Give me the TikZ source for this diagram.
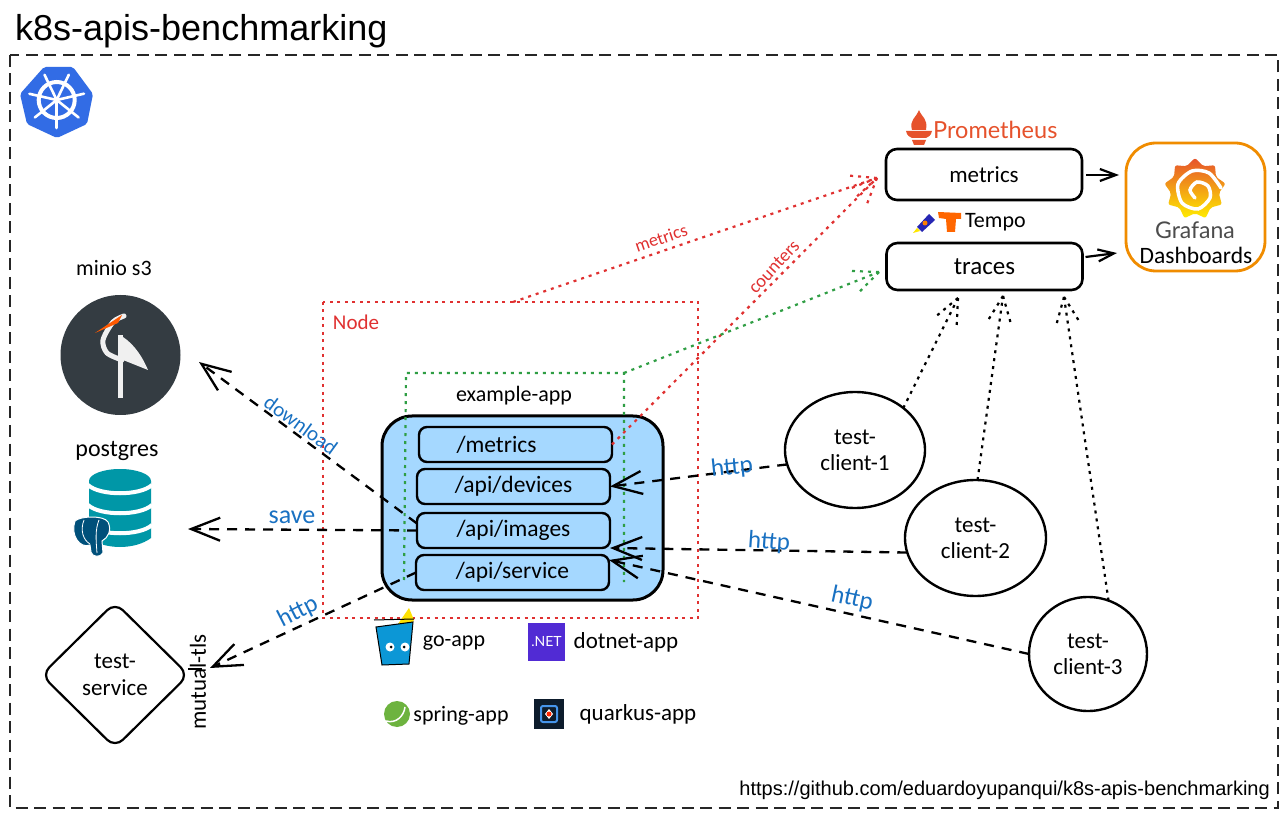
\documentclass[tikz,border=0pt]{standalone}
\usepackage{fontspec}
\setmainfont{Carlito}
\newfontfamily\titlefont{Liberation Sans}
\newfontfamily\logofont{Lato}
\usetikzlibrary{arrows.meta,shapes.geometric,decorations.markings}
\definecolor{boxblue}{HTML}{A5D8FF}
\definecolor{textblue}{HTML}{1971C2}
\definecolor{nodered}{HTML}{E03131}
\definecolor{appgreen}{HTML}{2F9E44}
\definecolor{grafanaorange}{HTML}{F08C00}
\definecolor{promred}{HTML}{E6522C}
\definecolor{kubeblue}{HTML}{326CE5}
\definecolor{miniodark}{HTML}{343C42}
\definecolor{pgteal}{HTML}{0097A7}
\definecolor{pgblue}{HTML}{00507A}
\definecolor{gocup}{HTML}{0C97D6}
\definecolor{dotnetviolet}{HTML}{512BD4}
\definecolor{springgreen}{HTML}{6DB33F}
\definecolor{quarkusdark}{HTML}{0D1C2C}
\definecolor{quarkusblue}{HTML}{4695EB}
\tikzset{
    barb/.style={-{Straight Barb[length=29pt,width=23pt,line width=2.3pt]}},
    small barb/.style={-{Straight Barb[length=16pt,width=12pt,line width=2.2pt]}},
    small text/.style={font=\fontsize{22}{26}\selectfont},
    edge text/.style={font=\fontsize{#1}{26}\selectfont,text=textblue},
    edge text/.default=25,
    endpoint/.style={draw=black,line width=2.4pt,rounded corners=8pt,fill=boxblue,
        minimum width=193pt,minimum height=35pt,inner sep=0pt,outer sep=0pt,
        font=\fontsize{23.5}{26}\selectfont},
    collector/.style={draw=black,line width=2.6pt,rounded corners=11pt,
        minimum width=196pt,inner sep=0pt,outer sep=0pt,font=\fontsize{23}{26}\selectfont},
    client/.style={draw=black,ellipse,line width=2.4pt,inner sep=0pt,outer sep=0pt,
        align=center,font=\fontsize{23}{26}\selectfont},
    dot barbs/.style={postaction={decorate,decoration={markings,mark=at position 1 with {
        \draw [#1,line width=2.2pt,dash pattern=on 3pt off 5pt] (0pt,0pt) -- (-25pt,11pt);
        \draw [#1,line width=2.2pt,dash pattern=on 3pt off 5pt] (0pt,0pt) -- (-25pt,-11pt);
    }}}},
    telemetry/.style={draw=#1,line width=2.2pt,dash pattern=on 3pt off 5pt,dot barbs=#1},
}
\begin{document}
\begin{tikzpicture}[x=1pt,y=-1pt]
    \useasboundingbox (0,0) rectangle (1286,818);
    \fill [white] (0,0) rectangle (1286,818);

    \node (title) [anchor=west,inner sep=0pt,font=\titlefont\fontsize{36}{40}\selectfont] at (15,31) {k8s-apis-benchmarking};
    \draw [black!85,line width=2.8pt,dash pattern=on 12pt off 6.5pt] (10,55) rectangle (1278,808);
    \node (url) [anchor=east,inner sep=0pt,font=\titlefont\fontsize{20}{22}\selectfont] at (1270,790) {https://github.com/eduardoyupanqui/k8s-apis-benchmarking};

    % kubernetes logo
    \fill [kubeblue,rounded corners=2pt] (44,67) -- (73,67) -- (93,94) -- (87,124) -- (57,138) -- (27,124) -- (20,94) -- cycle;
    \draw [white,line width=4pt] (56.7,100) circle (18);
    \fill [white] (56.7,100) circle (2.8);
    \foreach \spoke in {90,141.4,192.8,244.2,295.6,347,38.6}
        \draw [white,line width=2.6pt,line cap=round] (56.7,100) -- ++(\spoke:28);

    % minio
    \node (minio) [circle,fill=miniodark,minimum size=120pt,inner sep=0pt] at (120.5,355) {};
    \draw [white!94!black,line width=5pt,line cap=round] plot [smooth] coordinates {(124,316) (113,322) (103,340) (107,353) (122,360)};
    \fill [white!94!black] (123,337) .. controls (135,345) and (143,358) .. (148,370) -- (123,360) -- cycle;
    \fill [white!94!black] (117.5,335) rectangle (123,398);
    \fill [orange!70!red] (122,315) -- (95,333) -- (118,323) -- cycle;
    \node (miniolabel) [small text] at (114,268) {minio s3};
    \coordinate (minioin) at (199,362);

    % postgres
    \fill [pgteal] (89,481) -- (151,481) -- (151,538) .. controls (135,550) and (105,550) .. (89,538) -- cycle;
    \fill [pgteal] (120,481) ellipse [x radius=31,y radius=12];
    \foreach \band in {485,505,525}
        \draw [white,line width=4pt] (88,\band) .. controls (100,\band+11) and (140,\band+11) .. (152,\band);
    \fill [pgblue,draw=white,line width=1pt] (75,521) .. controls (80,516) and (104,515) .. (108,522)
        .. controls (112,530) and (108,538) .. (102,541) -- (103,553) .. controls (100,558) and (92,557) .. (91,552)
        -- (90,545) .. controls (80,549) and (70,535) .. (75,521) -- cycle;
    \draw [white,line width=0.8pt] (84,520) .. controls (80,530) and (83,540) .. (90,544) (99,520) .. controls (95,530) and (96,540) .. (97,553);
    \node (pglabel) [font=\fontsize{24}{28}\selectfont] at (117,451) {postgres};
    \coordinate (pgin) at (188,529);

    % test service
    \node (service) [draw=black,diamond,rounded corners=11pt,line width=2.2pt,minimum width=148pt,minimum height=146pt,inner sep=0pt,align=center,font=\fontsize{23}{27}\selectfont] at (115,675) {test-\\service};
    \node (tls) [rotate=90,font=\fontsize{23}{26}\selectfont,inner sep=0pt] at (198,682) {mutual-tls};
    \coordinate (servicein) at (210,668);
    \draw [line width=1.6pt] (188,669) -- (202,669);

    % node and app containers
    \draw [nodered,line width=2.2pt,dash pattern=on 3pt off 4.5pt] (323,302) rectangle (698,618);
    \node (nodelabel) [text=nodered,font=\fontsize{21}{24}\selectfont] at (356,322) {Node};
    \node (app) [draw=black,fill=boxblue,rounded corners=30pt,line width=3pt,minimum width=281pt,minimum height=184pt] at (522.5,508) {};
    \draw [appgreen,line width=2.2pt,dash pattern=on 3pt off 5pt] (404,580) -- (406,373) -- (624,373) -- (624,582);
    \node (applabel) [small text] at (514,396) {example-app};

\begin{scope}[every node/.style={endpoint}]
    \node (pmetrics) at (515.5,444.5) {/metrics\hspace{38pt}\null};
    \node (devices) at (513.5,486.5) {/api/devices};
    \node (images) at (513.5,530.5) {/api/images};
    \node (apiservice) at (512.5,572.5) {/api/service};
\end{scope}

    % language logos
    \fill [yellow!85!orange] (398,624) -- (409,608) -- (414,620) -- (411,624) -- cycle;
    \fill [gocup,draw=black,line width=1pt] (376,627) -- (413,622) -- (409,664) -- (382,665) -- cycle;
    \draw [black,line width=1pt] (374,620) -- (414,619);
    \fill [white] (390,647) circle (4.5) (405,647) circle (4.5);
    \fill [black] (391,647) circle (1.5) (404,647) circle (1.5);
    \node (goapp) [small text] at (454,643) {go-app};
    \node (dotnetlogo) [fill=dotnetviolet,text=white,minimum width=37pt,minimum height=38pt,inner sep=0pt,font=\logofont\fontsize{14}{15}\selectfont] at (546.5,642) {.NET};
    \node (dotnetapp) [font=\fontsize{23}{26}\selectfont] at (626,642) {dotnet-app};
    \node (springlogo) [circle,fill=springgreen,minimum size=26pt,inner sep=0pt] at (397,714) {};
    \draw [white,line width=1.5pt] (386,721) .. controls (396,724) and (404,716) .. (405,707);
    \node (springapp) [small text] at (461,716) {spring-app};
    \node (quarkuslogo) [fill=quarkusdark,minimum size=30pt,inner sep=0pt] at (549,714) {};
    \draw [quarkusblue,line width=2pt,rounded corners=2pt] (541,706) rectangle (557,722);
    \fill [white] (549,709) -- (553,714) -- (549,719) -- (545,714) -- cycle;
    \fill [red!70!orange] (549,714) circle (2.5);
    \node (quarkusapp) [font=\fontsize{23}{26}\selectfont] at (638,714) {quarkus-app};

    % collectors
    \fill [promred] (919,110) .. controls (922,118) and (928,118) .. (926,130) -- (912,130) .. controls (909,120) and (916,118) .. (919,110) -- cycle;
    \fill [promred] (906,131) -- (932,131) .. controls (931,136) and (928,137) .. (926,138) -- (912,138) .. controls (910,137) and (907,136) .. (906,131) -- cycle;
    \fill [promred] (912,140) -- (926,140) -- (924,145) -- (914,145) -- cycle;
    \node (promlabel) [text=promred,anchor=west,inner sep=0pt,font=\logofont\fontsize{23.5}{26}\selectfont] at (933,130) {Prometheus};
    \node (metrics) [collector,minimum height=51pt] at (984,174.5) {metrics};
    \fill [yellow!90!orange] (913,233) -- (917,228) -- (920,231) -- cycle;
    \fill [blue!65!black!85] (917,227) -- (929,214) -- (935,220) -- (922,232) -- cycle;
    \fill [orange] (925,223) circle (2.5);
    \fill [orange!80!red] (938,212) -- (961,213) -- (961,219) -- (956,219) -- (955,232) -- (947,232) -- (946,219) -- (939,218) -- cycle;
    \node (tempolabel) [small text,anchor=west,inner sep=0pt] at (965,222) {Tempo};
    \node (traces) [collector,minimum height=47pt,font=\fontsize{25}{28}\selectfont] at (984.5,266.5) {traces};

    % grafana
    \node (grafana) [draw=grafanaorange,line width=2.8pt,rounded corners=30pt,minimum width=139pt,minimum height=128pt,inner sep=0pt] at (1195.5,207) {};
    \node (grafanalogo) [star,star points=9,star point ratio=1.28,rounded corners=2pt,top color=promred,bottom color=yellow!85!orange,minimum size=62pt,inner sep=0pt] at (1195,189) {};
    \draw [white,line width=3.5pt,line cap=round] plot [smooth] coordinates {(1221,188) (1209,173) (1192,171) (1178,184) (1182,203) (1198,209) (1210,198) (1208,186) (1197,182) (1190,190) (1195,198)};
    \node (grafanalabel) [text=black!70,font=\logofont\fontsize{23}{26}\selectfont] at (1195,230) {Grafana};
    \node (dashboards) [font=\fontsize{23.5}{26}\selectfont] at (1196,255) {Dashboards};

    % test clients
\begin{scope}[every node/.style={client}]
    \node (client1) [minimum width=140pt,minimum height=116pt] at (855,450) {test-\\client-1};
    \node (client2) [minimum width=141pt,minimum height=116pt] at (975.5,538) {test-\\client-2};
    \node (client3) [minimum width=118pt,minimum height=114pt] at (1088,654) {test-\\client-3};
\end{scope}

    % requests
\begin{scope}[every edge/.style={draw=black,line width=2.3pt,barb,dash pattern=on 10pt off 8pt}]
    \path ([yshift=7pt]images.west) edge (minioin);
    \path (images.west) edge (pgin);
    \path (apiservice.west) edge (servicein);
    \path (client1.192) edge (devices.east);
    \path (client2.192) edge (images.south east);
    \path (client3.180) edge ([yshift=12.5pt]apiservice.east);
\end{scope}
    \coordinate (grafanain) at (1119,175);
    \coordinate (grafanaintwo) at (1117,253);
\begin{scope}[every edge/.style={draw=black,line width=2.2pt,small barb}]
    \path ([xshift=4pt,yshift=-0.5pt]metrics.east) edge (grafanain);
    \path ([xshift=3pt,yshift=9.5pt]traces.east) edge (grafanaintwo);
\end{scope}

    % telemetry
    \coordinate (metricsin) at (877,178);
    \coordinate (tracesin) at (879,272);
    \coordinate (nodetop) at (513,302);
    \coordinate (appcorner) at (624,373);
    \coordinate (spanone) at (958,298);
    \coordinate (spantwo) at (1003,296);
    \coordinate (spanthree) at (1064,297);
    \path (nodetop) edge [telemetry=nodered] (metricsin);
    \path (pmetrics.east) edge [telemetry=nodered] (metricsin);
    \path (appcorner) edge [telemetry=appgreen] (tracesin);
    \path (client1.41) edge [telemetry=black] (spanone);
    \path (client2.88) edge [telemetry=black] (spantwo);
    \path (client3.69) edge [telemetry=black] (spanthree);

    % edge labels
    \node (lbldownload) [edge text=21,rotate=-36] at (301,425) {download};
    \node (lblsave) [edge text=26] at (292,517) {save};
    \node (lblhttpservice) [edge text,rotate=27] at (298,612) {http};
    \node (lblhttpone) [edge text,rotate=6] at (732,468) {http};
    \node (lblhttptwo) [edge text,rotate=-4] at (769,542) {http};
    \node (lblhttpthree) [edge text,rotate=-12] at (852,599) {http};
    \node (lblmetrics) [font=\fontsize{18}{20}\selectfont,text=nodered,rotate=19] at (661,238) {metrics};
    \node (lblcounters) [font=\fontsize{18.5}{20}\selectfont,text=nodered,rotate=47] at (774,267) {counters};
\end{tikzpicture}
\end{document}
